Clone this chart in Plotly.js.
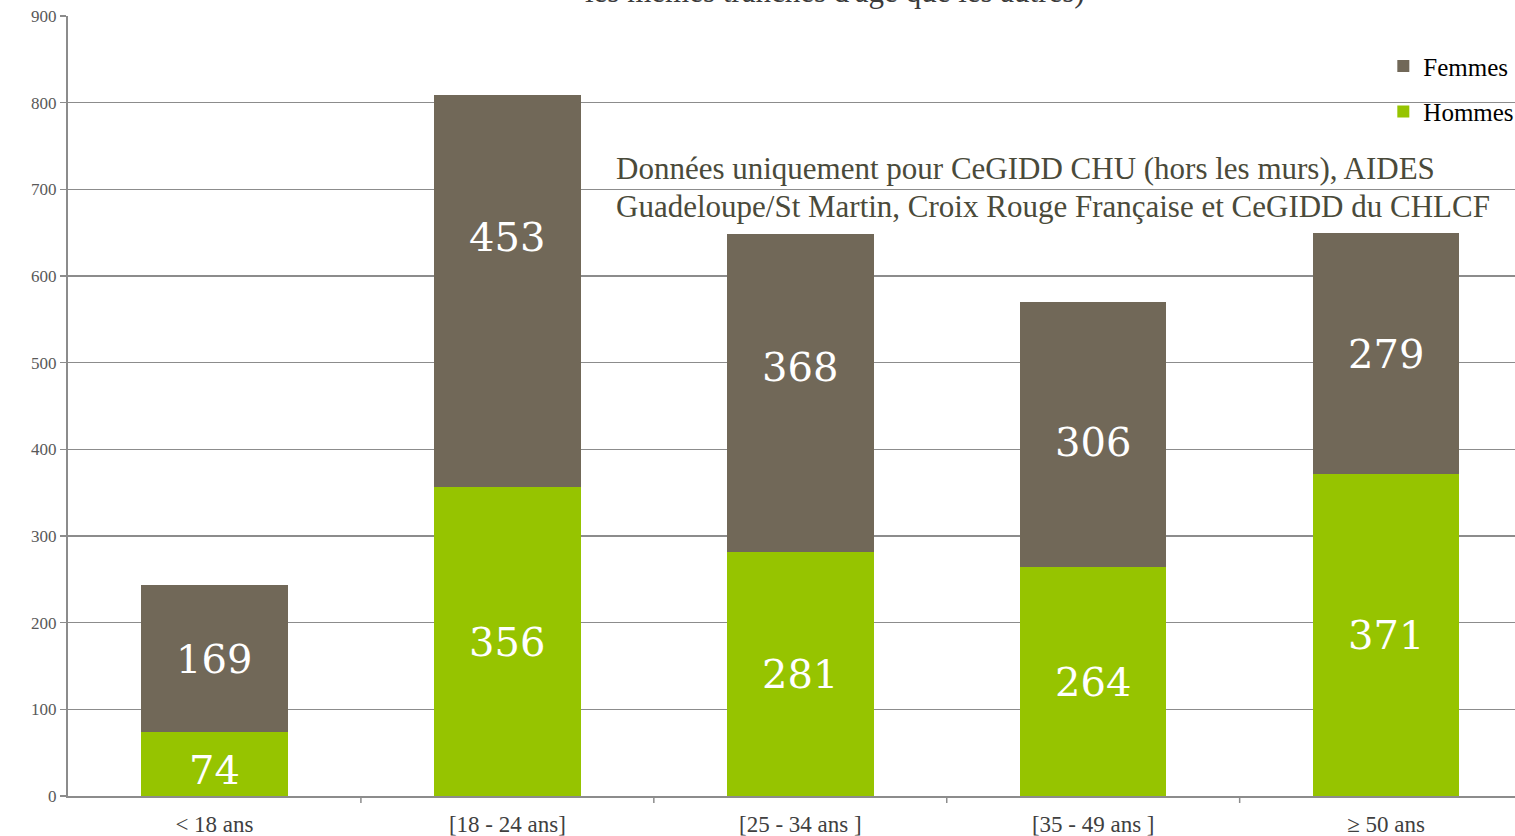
<!DOCTYPE html>
<html>
<head>
<meta charset="utf-8">
<script src="https://cdn.plot.ly/plotly-3.0.1.min.js"></script>
<style>html,body{margin:0;padding:0;overflow:hidden;background:#fff;}</style>
</head>
<body>
<div id="chart" style="width:1515px;height:836px;"></div>
<script>
const categories = ["< 18 ans", "[18 - 24 ans]", "[25 - 34 ans ]", "[35 - 49 ans ]", "≥ 50 ans"];
const hommes = [74, 356, 281, 264, 371];
const femmes = [169, 453, 368, 306, 279];
const titleText = "les mêmes tranches d'âge que les autres)";
const noteLines = [
  "Données uniquement pour CeGIDD CHU (hors les murs), AIDES",
  "Guadeloupe/St Martin, Croix Rouge Française et CeGIDD du CHLCF"
];

// label vertical nudges (px, positive = up) as placed in the original
const hommesShift = [-6, 0, 0, 0, 0];
const femmesShift = [0, 54, 26, -7, 0];

const serif = "Liberation Serif, DejaVu Serif, serif";
const labelFont = {family: "DejaVu Serif, serif", size: 40, color: "#ffffff"};
const xs = categories.map((_, i) => i);

const traces = [
  {
    type: "bar", name: "Hommes", x: xs, y: hommes,
    marker: {color: "#96C400"}, width: 0.5,
    legendgroup: "h", legendrank: 2, hoverinfo: "y"
  },
  {
    type: "bar", name: "Femmes", x: xs, y: femmes,
    marker: {color: "#716858"}, width: 0.5,
    legendgroup: "f", legendrank: 1, hoverinfo: "y"
  }
];

const labelAnn = [];
xs.forEach(i => {
  labelAnn.push({x: i, y: hommes[i] / 2, xref: "x", yref: "y", text: String(hommes[i]),
    showarrow: false, font: labelFont, yshift: hommesShift[i], xanchor: "center", yanchor: "middle"});
  labelAnn.push({x: i, y: hommes[i] + femmes[i] / 2, xref: "x", yref: "y", text: String(femmes[i]),
    showarrow: false, font: labelFont, yshift: femmesShift[i], xanchor: "center", yanchor: "middle"});
});

const noteAnn = noteLines.map((t, k) => ({
  text: t, xref: "paper", yref: "paper",
  x: 0.377, y: 0.804 - k * 0.0487, xanchor: "left", yanchor: "middle", align: "left",
  showarrow: false, font: {family: serif, size: 31, color: "#4a4a3a"}
}));

const layout = {
  width: 1515, height: 836,
  margin: {l: 68, r: 0, t: 16, b: 40, autoexpand: false},
  barmode: "stack",
  paper_bgcolor: "#ffffff", plot_bgcolor: "#ffffff",
  showlegend: true,
  legend: {
    x: 0.909, y: 0.965, xanchor: "left", yanchor: "top",
    font: {family: serif, size: 25, color: "#000000"},
    traceorder: "grouped", tracegroupgap: 10,
    bgcolor: "rgba(0,0,0,0)", itemwidth: 30
  },
  xaxis: {
    range: [-0.5, 4.44],
    tickmode: "array", tickvals: xs, ticktext: categories,
    ticks: "", showgrid: false, zeroline: false,
    showline: true, linecolor: "#8c8c8c", linewidth: 2,
    tickfont: {family: serif, size: 23, color: "#404040"},
    ticklabelstandoff: 6,
    fixedrange: true
  },
  yaxis: {
    range: [0, 900], dtick: 100,
    showgrid: true, gridcolor: "#8c8c8c", gridwidth: 1.5,
    zeroline: false, showline: true, linecolor: "#8c8c8c", linewidth: 2,
    ticks: "outside", ticklen: 6, tickcolor: "#8c8c8c", tickwidth: 1.5,
    tickfont: {family: serif, size: 17, color: "#595959"},
    fixedrange: true
  },
  shapes: [1,2,3,4].map(i => ({
    type: "line", xref: "x", yref: "paper",
    x0: i - 0.5, x1: i - 0.5, y0: 0, y1: -0.009,
    line: {color: "#8c8c8c", width: 1.5}
  })),
  annotations: [
    {
      text: titleText, xref: "paper", yref: "paper",
      x: 0.53, y: 1.006, xanchor: "center", yanchor: "bottom",
      showarrow: false, font: {family: serif, size: 31, color: "#3b3b3b"}
    }
  ].concat(noteAnn).concat(labelAnn)
};

Plotly.newPlot("chart", traces, layout, {displayModeBar: false, staticPlot: true});
</script>
</body>
</html>
